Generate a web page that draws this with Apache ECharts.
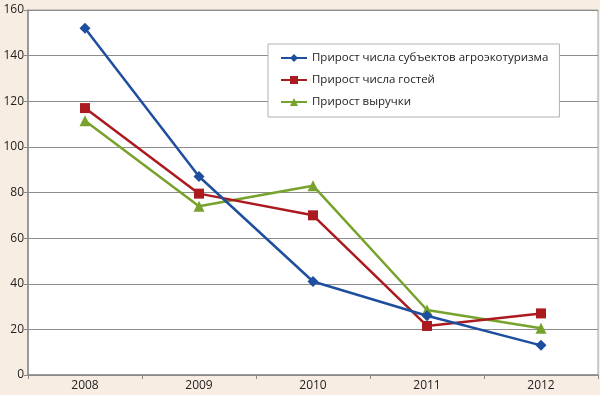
<!DOCTYPE html>
<html><head><meta charset="utf-8">
<script src="https://cdn.jsdelivr.net/npm/echarts@6/dist/echarts.min.js"></script>
<style>html,body{margin:0;padding:0;background:#f8ede2;}#c{width:600px;height:395px;}</style>
</head><body><div id="c"></div>
<script>
const years = ['2008','2009','2010','2011','2012'];
const seriesNames = ['Прирост числа субъектов агроэкотуризма','Прирост числа гостей','Прирост выручки'];
const subjects = [152, 87, 41, 26, 13];
const guests = [117, 79.5, 70, 21.5, 27];
const revenue = [111.5, 74, 83, 28.5, 20.5];
const yTicks = {min:0, max:160, interval:20};

const colors = ['#1d4f9e','#aa1a1e','#77a22b'];
const symbols = ['diamond','rect','triangle'];
const sizes = [11,10,11];
const data = [subjects, guests, revenue];

const chart = echarts.init(document.getElementById('c'), null, {renderer:'canvas'});
chart.setOption({
  backgroundColor:'#f8ede2',
  animation:false,
  textStyle:{fontFamily:'Open Sans'},
  grid:{left:28,right:2,top:10,bottom:20,show:true,backgroundColor:'#ffffff',borderColor:'#a0a0a0',borderWidth:1},
  legend:{
    orient:'vertical', left:268, top:44,
    backgroundColor:'#ffffff', borderColor:'#b0b0b0', borderWidth:1,
    padding:[8,11,9,12], itemGap:10, itemWidth:26, itemHeight:10,
    textStyle:{fontSize:11.5,color:'#222',fontFamily:'Open Sans'},
    data:seriesNames
  },
  xAxis:{type:'category',data:years,boundaryGap:true,
    axisLine:{lineStyle:{color:'#8a8a8a',width:1.5}},
    axisTick:{show:true,length:4,lineStyle:{color:'#8a8a8a'}},
    axisLabel:{color:'#222',fontSize:12,margin:5}},
  yAxis:{type:'value',min:yTicks.min,max:yTicks.max,interval:yTicks.interval,
    axisLine:{show:true,lineStyle:{color:'#8a8a8a',width:1.5}},
    axisTick:{show:true,length:4,lineStyle:{color:'#8a8a8a'}},
    splitLine:{lineStyle:{color:'#8c8c8c',width:1}},
    axisLabel:{color:'#222',fontSize:12,margin:4}},
  series: seriesNames.map((n,i)=>({
    name:n,type:'line',data:data[i],symbol:symbols[i],symbolSize:sizes[i],
    lineStyle:{color:colors[i],width:2.5},itemStyle:{color:colors[i]},z:3-i+2
  }))
});
</script></body></html>
